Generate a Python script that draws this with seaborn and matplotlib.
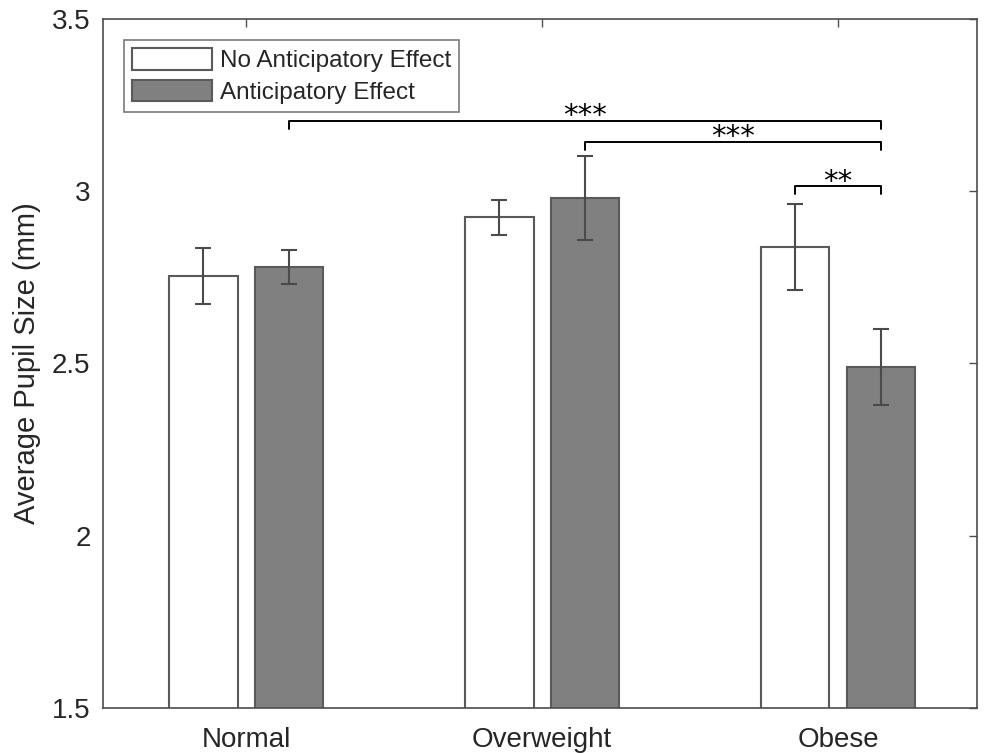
import numpy as np
import pandas as pd
import matplotlib
matplotlib.use('Agg')
import matplotlib.pyplot as plt
import seaborn as sns

# values
groups = ['Normal', 'Overweight', 'Obese']
conditions = ['No Anticipatory Effect', 'Anticipatory Effect']
no_effect = [2.754, 2.924, 2.838]
no_effect_err = [0.081, 0.051, 0.126]
effect = [2.780, 2.980, 2.490]
effect_err = [0.049, 0.123, 0.110]

# significance brackets: (group, condition) pairs, height, label
bracket_from = [(0, 1), (1, 1), (2, 0)]
bracket_to = [(2, 1), (2, 1), (2, 1)]
bracket_y = [3.204, 3.143, 3.015]
bracket_labels = ['***', '***', '**']

df = pd.DataFrame({
    'Group': groups * 2,
    'Condition': [conditions[0]] * 3 + [conditions[1]] * 3,
    'Pupil': no_effect + effect,
})
errs = [no_effect_err, effect_err]

sns.set_theme(style='white')
plt.rcParams['font.family'] = ['Liberation Sans', 'DejaVu Sans']

fig = plt.figure(figsize=(9.84, 7.53), dpi=100)
ax = fig.add_axes([0.1047, 0.0598, 0.8882, 0.9150])

sns.barplot(data=df, x='Group', y='Pupil', hue='Condition', order=groups,
            hue_order=conditions, palette=['white', '#808080'], width=0.58,
            gap=0.2, errorbar=None, edgecolor='#5a5a5a', linewidth=1.5,
            saturation=1, ax=ax)
bars = list(ax.containers)

# error bars at the bar centres
for j, cont in enumerate(bars):
    xs = [p.get_x() + p.get_width() / 2 for p in cont.patches]
    hs = [p.get_height() for p in cont.patches]
    ax.errorbar(xs, hs, yerr=errs[j], fmt='none', ecolor='#4a4a4a',
                elinewidth=1.5, capsize=6, capthick=1.5, zorder=5)

def bar_center(g, c):
    p = bars[c].patches[g]
    return p.get_x() + p.get_width() / 2

drop = 0.022
for a, b, y, lab in zip(bracket_from, bracket_to, bracket_y, bracket_labels):
    x1, x2 = bar_center(*a), bar_center(*b)
    ax.plot([x1, x1, x2, x2], [y - drop, y, y, y - drop], color='black', lw=1.4)
    ax.text((x1 + x2) / 2, y - 0.01, lab, ha='center', va='baseline',
            fontsize=21, family='DejaVu Sans', color='black')

ax.set_ylim(1.5, 3.5)
ax.set_xlim(-0.484, 2.47)
ax.set_yticks([1.5, 2, 2.5, 3, 3.5])
ax.set_yticklabels(['1.5', '2', '2.5', '3', '3.5'])
ax.set_xlabel('')
ax.set_ylabel('Average Pupil Size (mm)', fontsize=21, color='#262626', labelpad=8)
ax.tick_params(axis='both', direction='in', length=6, width=1, color='#4d4d4d',
               top=True, right=True, labelsize=20, labelcolor='#262626')
ax.tick_params(axis='x', pad=14)
ax.tick_params(axis='y', pad=9)
for s in ax.spines.values():
    s.set_color('#4d4d4d')
    s.set_linewidth(1.2)

ax.legend(bars, conditions, loc='upper left', fontsize=17.5,
          fancybox=False, frameon=True, edgecolor='#7a7a7a', framealpha=1,
          handlelength=3.3, handleheight=1.0, labelspacing=0.3,
          handletextpad=0.3, borderaxespad=0.85, borderpad=0.35)
ax.get_legend().get_frame().set_linewidth(1.2)

fig.savefig('out.png', dpi=100)
